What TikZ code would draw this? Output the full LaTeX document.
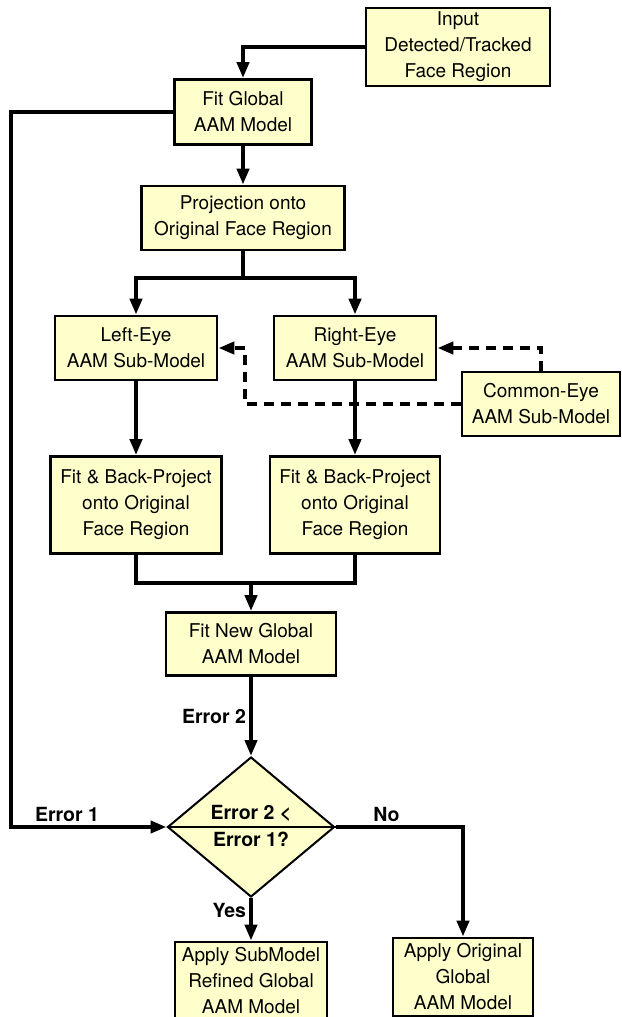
\documentclass[tikz,border=0pt]{standalone}
\usepackage{fontspec}
\setmainfont{TeX Gyre Heros}
\usetikzlibrary{positioning, shapes.geometric, arrows.meta}
\definecolor{boxfill}{RGB}{255,255,204}

\begin{document}
\begin{tikzpicture}[x=1pt, y=-1pt, line width=4pt, >={Triangle[length=16pt,width=12pt]}]
  \tikzstyle{block} = [draw, fill=boxfill, rectangle, line width=2.8pt, align=center, inner sep=0pt, font=\fontsize{19}{26}\selectfont]
  \tikzstyle{decision} = [draw, fill=boxfill, diamond, line width=2pt, inner sep=0pt, minimum width=167pt, minimum height=140pt]
  \tikzstyle{lbl} = [font=\fontsize{19.5}{22}\selectfont\bfseries, inner sep=3pt]
  \tikzstyle{tmp} = [coordinate]
  \tikzstyle{dash line} = [dash pattern=on 10pt off 7pt]
  \useasboundingbox (0,0) rectangle (621,1017);

  \node [block, minimum width=137pt, minimum height=65pt] (fitg) at (243,112) {Fit Global\\AAM Model};
  \node [block, minimum width=184pt, minimum height=78pt] (input) at (458,47) {Input\\Detected/Tracked\\Face Region};
  \node [block, below of=fitg, node distance=106pt, minimum width=203pt, minimum height=64pt] (proj) {Projection onto\\Original Face Region};
  \node [tmp, below of=proj, node distance=60pt] (split) {};
  \node [block, below of=proj, xshift=-107pt, node distance=130pt, minimum width=162pt, minimum height=64pt] (leye) {Left-Eye\\AAM Sub-Model};
  \node [block, right of=leye, node distance=219pt, minimum width=162pt, minimum height=64pt] (reye) {Right-Eye\\AAM Sub-Model};
  \node [block, minimum width=158pt, minimum height=64pt] (ceye) at (541,404) {Common-Eye\\AAM Sub-Model};
  \node [tmp, right of=leye, node distance=109pt] (dbend) {};
  \node [block, below of=leye, node distance=157pt, minimum width=171pt, minimum height=97pt] (fitl) {Fit \& Back-Project\\onto Original\\Face Region};
  \node [block, below of=reye, node distance=157pt, minimum width=170pt, minimum height=97pt] (fitr) {Fit \& Back-Project\\onto Original\\Face Region};
  \node [block, minimum width=170pt, minimum height=63pt] (newg) at (251,644) {Fit New Global\\AAM Model};
  \node [tmp, above of=newg, node distance=61pt] (merge) {};
  \node [decision, below of=newg, node distance=183pt] (dec) {};
  \node [lbl, above=0pt of dec.center] (q1) {Error 2 <};
  \node [lbl, below=0pt of dec.center] (q2) {Error 1?};
  \node [block, below of=dec, node distance=154pt, minimum width=152pt, minimum height=78pt] (applys) {Apply SubModel\\Refined Global\\AAM Model};
  \node [block, minimum width=140pt, minimum height=78pt] (applyo) at (463,977) {Apply Original\\Global\\AAM Model};
  \node [tmp, left of=fitg, node distance=232pt] (back) {};

  \draw [->] (input) -| (fitg);
  \draw [->] (fitg) -- (proj);
  \draw (proj) -- (split);
  \draw [->] (split) -| (leye);
  \draw [->] (split) -| (reye);
  \draw [->] (leye) -- (fitl);
  \draw [->] (reye) -- (fitr);
  \draw [->, dash line] (ceye) |- (reye);
  \draw [->, dash line] (ceye) -| (dbend) -- (leye);
  \draw (fitl) |- (merge);
  \draw (fitr) |- (merge);
  \draw [->] (merge) -- (newg);
  \draw [->] (newg) -- node [lbl, left] (e2) {Error 2} (dec);
  \draw [->] (fitg) -- (back) |- node [lbl, pos=0.68, above] (e1) {Error 1} (dec);
  \draw [->] (dec) -| node [lbl, pos=0.2, above] (no) {No} (applyo);
  \draw [->] (dec) -- node [lbl, pos=0.3, left] (yes) {Yes} (applys);
  \draw [line width=2pt] (dec.west) -- (dec.east);
\end{tikzpicture}
\end{document}
